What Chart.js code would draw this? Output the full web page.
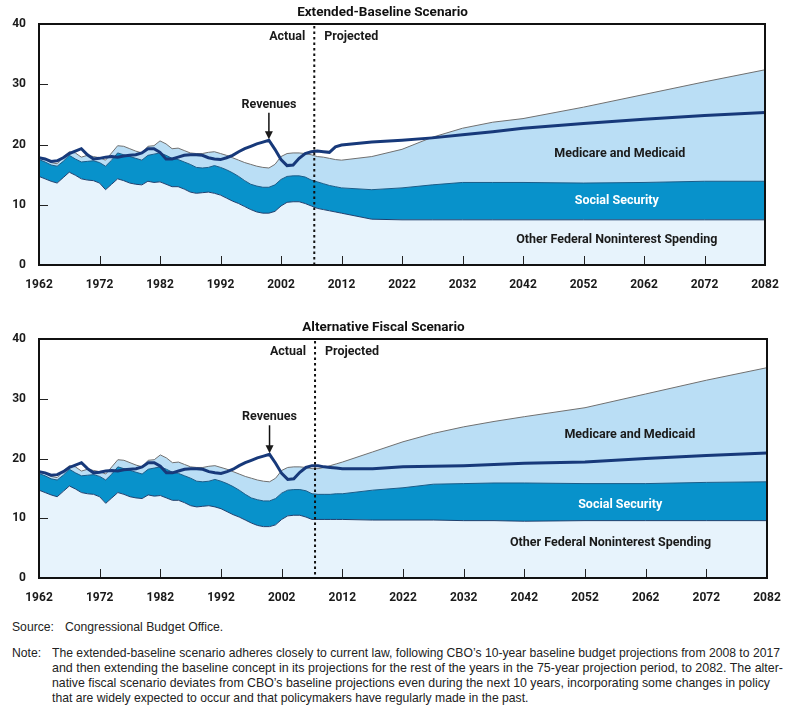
<!DOCTYPE html>
<html>
<head>
<meta charset="utf-8">
<script src="https://cdn.jsdelivr.net/npm/chart.js@4.4.1/dist/chart.umd.min.js"></script>
<style>
  body { margin: 0; background: #fff; width: 800px; height: 712px; position: relative; overflow: hidden; }
  canvas { position: absolute; left: 0; }
  #topChart { top: 0; }
  #bottomChart { top: 315px; }
  .txt { position: absolute; font-family: "Liberation Sans", Arial, sans-serif; font-size: 13.5px; line-height: 15px; color: #222; white-space: nowrap; transform-origin: 0 50%; }
</style>
</head>
<body>
<canvas id="topChart" width="800" height="300"></canvas>
<canvas id="bottomChart" width="800" height="298"></canvas>

<div class="txt" style="left:12px; top:619px;">Source:</div>
<div class="txt" style="left:65px; top:619px;">Congressional Budget Office.</div>
<div class="txt" style="left:12px; top:645px;">Note:</div>
<div class="txt fit" data-w="728" style="left:52px; top:645px;">The extended-baseline scenario adheres closely to current law, following CBO’s 10-year baseline budget projections from 2008 to 2017</div>
<div class="txt fit" data-w="731" style="left:52px; top:660px;">and then extending the baseline concept in its projections for the rest of the years in the 75-year projection period, to 2082. The alter-</div>
<div class="txt fit" data-w="718" style="left:52px; top:675px;">native fiscal scenario deviates from CBO’s baseline projections even during the next 10 years, incorporating some changes in policy</div>
<div class="txt" style="left:52px; top:690px;">that are widely expected to occur and that policymakers have regularly made in the past.</div>

<script>
// percent of GDP, actual years
let histYears = [1962, 1963, 1964, 1965, 1966, 1967, 1968, 1969, 1970, 1971,
                 1972, 1973, 1974, 1975, 1976, 1977, 1978, 1979, 1980, 1981,
                 1982, 1983, 1984, 1985, 1986, 1987, 1988, 1989, 1990, 1991,
                 1992, 1993, 1994, 1995, 1996, 1997, 1998, 1999, 2000, 2001,
                 2002, 2003, 2004, 2005, 2006, 2007];
// top of "other federal noninterest spending"
let histOther = [14.7, 14.3, 13.9, 13.6, 14.5, 15.4, 14.9, 14.3, 14.1, 14.0,
                 13.6, 12.5, 13.4, 14.3, 14.0, 13.6, 13.4, 13.3, 13.9, 13.7,
                 13.8, 13.4, 13.0, 13.0, 12.6, 12.1, 11.9, 12.0, 12.1, 11.9,
                 11.6, 11.1, 10.6, 10.2, 9.7, 9.2, 8.8, 8.6, 8.6, 8.9,
                 9.8, 10.4, 10.5, 10.5, 10.2, 9.8];
// top of social security band (stacked)
let histSocialTop = [17.5, 17.1, 16.6, 16.4, 17.2, 18.2, 17.6, 17.1, 17.2, 17.3,
                     17.0, 16.4, 17.4, 18.6, 18.3, 18.0, 17.7, 17.4, 18.2, 18.4,
                     18.6, 18.2, 17.7, 17.5, 17.1, 16.7, 16.2, 16.1, 16.2, 16.5,
                     16.2, 15.8, 15.3, 14.7, 14.0, 13.4, 13.1, 12.9, 12.9, 13.3,
                     14.2, 14.7, 14.8, 14.8, 14.6, 14.1];
// total noninterest spending (top of medicare and medicaid)
let histTotal = [17.8, 17.5, 17.0, 16.8, 17.9, 18.8, 18.6, 17.9, 18.2, 18.0,
                 17.8, 17.4, 18.6, 19.8, 19.7, 19.3, 18.9, 18.6, 19.7, 19.8,
                 20.6, 20.1, 19.3, 19.4, 19.0, 18.6, 18.5, 18.5, 18.7, 18.8,
                 18.5, 18.2, 17.8, 17.4, 17.0, 16.7, 16.4, 16.2, 16.1, 16.7,
                 18.0, 18.5, 18.6, 18.6, 18.5, 18.3];
let histRevenues = [17.8, 17.6, 17.2, 17.3, 17.8, 18.5, 18.9, 19.3, 18.3, 17.6,
                    17.7, 17.9, 18.0, 17.9, 18.1, 18.2, 18.3, 18.6, 19.3, 19.3,
                    18.7, 17.6, 17.6, 17.9, 18.2, 18.3, 18.3, 18.2, 17.8, 17.6,
                    17.5, 17.8, 18.2, 18.8, 19.3, 19.7, 20.1, 20.4, 20.7, 19.2,
                    17.5, 16.5, 16.6, 17.7, 18.5, 18.8];

let projYears = [2008, 2009, 2010, 2011, 2012, 2017, 2022, 2027, 2032, 2037, 2042, 2052, 2062, 2072, 2082];

// extended-baseline scenario
let baseOther     = [9.4, 9.2, 9.0, 8.8, 8.6, 7.6, 7.5, 7.5, 7.5, 7.5, 7.5, 7.5, 7.5, 7.5, 7.5];
let baseSocialTop = [13.8, 13.5, 13.2, 13.0, 12.8, 12.5, 12.8, 13.3, 13.7, 13.7, 13.7, 13.6, 13.7, 13.9, 13.9];
let baseTotal     = [18.0, 17.9, 17.7, 17.5, 17.4, 18.0, 19.2, 21.2, 22.7, 23.7, 24.3, 26.2, 28.3, 30.4, 32.4];
let baseRevenues  = [18.9, 18.8, 18.7, 19.6, 19.9, 20.4, 20.7, 21.1, 21.6, 22.1, 22.7, 23.5, 24.2, 24.8, 25.3];

// alternative fiscal scenario
let altOther     = [9.8, 9.8, 9.8, 9.8, 9.8, 9.7, 9.7, 9.7, 9.6, 9.6, 9.5, 9.6, 9.6, 9.6, 9.6];
let altSocialTop = [14.0, 14.0, 14.0, 14.1, 14.1, 14.7, 15.1, 15.7, 15.8, 15.9, 15.9, 15.8, 15.8, 16.0, 16.1];
let altTotal     = [18.3, 18.5, 18.8, 19.1, 19.4, 21.1, 22.8, 24.2, 25.3, 26.2, 27.0, 28.5, 30.8, 33.1, 35.2];
let altRevenues  = [18.8, 18.6, 18.5, 18.4, 18.3, 18.3, 18.6, 18.7, 18.8, 19.0, 19.2, 19.4, 20.0, 20.5, 20.9];

let splitYear = 2007.5;   // actual | projected
let peakYear = 2000;      // where the "Revenues" arrow points

function points(hist, proj) {
    let years = histYears.concat(projYears);
    let vals = hist.concat(proj);
    return years.map((x, i) => ({ x: x, y: vals[i] }));
}

// squeeze the note lines to the reference's narrow type
let fitLines = document.querySelectorAll('.fit');
let noteScale = 1;
fitLines.forEach((el, i) => {
    let s = +el.dataset.w / el.getBoundingClientRect().width;
    if (i === 0) noteScale = s;
    el.style.transform = 'scaleX(' + s + ')';
});
document.querySelectorAll('.txt:not(.fit)').forEach(el => {
    el.style.transform = 'scaleX(' + noteScale + ')';
});

let boldFont = 'bold 12.5px Roboto, "DejaVu Sans", sans-serif';

let overlay = {
    id: 'overlay',
    afterDatasetsDraw(chart, args, opts) {
        let ctx = chart.ctx;
        let a = chart.chartArea;
        let x = chart.scales.x;
        let y = chart.scales.y;
        ctx.save();

        // small ticks inside the plot
        ctx.strokeStyle = '#222';
        ctx.lineWidth = 1;
        ctx.beginPath();
        x.ticks.forEach(t => {
            if (t.value <= x.min || t.value >= x.max) return;
            let px = Math.round(x.getPixelForValue(t.value)) + 0.5;
            ctx.moveTo(px, a.bottom);
            ctx.lineTo(px, a.bottom - 9);
        });
        y.ticks.forEach(t => {
            if (t.value <= y.min || t.value >= y.max) return;
            let py = Math.round(y.getPixelForValue(t.value)) + 0.5;
            ctx.moveTo(a.left, py);
            ctx.lineTo(a.left + 9, py);
        });
        ctx.stroke();

        // frame
        ctx.lineWidth = 2;
        ctx.strokeStyle = '#111';
        ctx.strokeRect(a.left, a.top, a.right - a.left, a.bottom - a.top);

        // actual / projected divider
        let sx = x.getPixelForValue(splitYear);
        ctx.setLineDash([2.5, 3]);
        ctx.beginPath();
        ctx.moveTo(sx, a.top + 2);
        ctx.lineTo(sx, a.bottom);
        ctx.stroke();
        ctx.setLineDash([]);

        ctx.font = boldFont;
        ctx.fillStyle = '#1a1a1a';
        ctx.textBaseline = 'middle';
        let ty = y.getPixelForValue(37.8);
        ctx.textAlign = 'right';
        ctx.fillText('Actual', sx - 9, ty);
        ctx.textAlign = 'left';
        ctx.fillText('Projected', sx + 10, ty);

        // revenues label + arrow
        let rx = x.getPixelForValue(peakYear);
        let ry = y.getPixelForValue(opts.revLabel);
        ctx.textAlign = 'center';
        ctx.fillText('Revenues', rx, ry);
        let tip = y.getPixelForValue(histRevenues[histYears.indexOf(peakYear)]) - 1;
        ctx.lineWidth = 1.5;
        ctx.beginPath();
        ctx.moveTo(rx, ry + 8);
        ctx.lineTo(rx, tip - 6);
        ctx.stroke();
        ctx.beginPath();
        ctx.moveTo(rx - 4, tip - 8);
        ctx.lineTo(rx + 4, tip - 8);
        ctx.lineTo(rx, tip);
        ctx.closePath();
        ctx.fill();

        // area labels
        opts.areas.forEach(l => {
            ctx.fillStyle = l.color;
            ctx.fillText(l.text, x.getPixelForValue(l.x), y.getPixelForValue(l.y));
        });
        ctx.restore();
    }
};

function makeChart(id, title, other, socialTop, total, revenues, padRight, marks) {
    return new Chart(document.getElementById(id).getContext('2d'), {
        type: 'line',
        data: {
            datasets: [{
                label: 'Revenues',
                data: revenues,
                borderColor: '#17397a',
                borderWidth: 3,
                fill: false
            }, {
                label: 'Other Federal Noninterest Spending',
                data: other,
                borderColor: '#1d3f6e',
                borderWidth: 1,
                backgroundColor: '#e7f3fc',
                fill: 'origin'
            }, {
                label: 'Social Security',
                data: socialTop,
                borderColor: '#1b5c88',
                borderWidth: 1,
                backgroundColor: '#0892cb',
                fill: 1
            }, {
                label: 'Medicare and Medicaid',
                data: total,
                borderColor: '#707070',
                borderWidth: 1,
                backgroundColor: '#badef5',
                fill: 2
            }]
        },
        options: {
            responsive: false,
            animation: false,
            events: [],
            elements: { point: { radius: 0 }, line: { tension: 0 } },
            layout: { autoPadding: false, padding: { left: 0, right: padRight, top: 0, bottom: 0 } },
            scales: {
                x: {
                    type: 'linear',
                    min: 1962,
                    max: 2082,
                    afterFit: s => { s.height = 35; },
                    grid: { display: false, drawTicks: false },
                    border: { display: false },
                    ticks: {
                        stepSize: 10,
                        padding: 13,
                        maxRotation: 0,
                        color: '#1a1a1a',
                        font: { family: 'Roboto', size: 12, weight: 'bold' },
                        callback: v => String(v)
                    }
                },
                y: {
                    min: 0,
                    max: 40,
                    afterFit: s => { s.width = 39; },
                    grid: { display: false, drawTicks: false },
                    border: { display: false },
                    ticks: {
                        stepSize: 10,
                        padding: 13,
                        color: '#1a1a1a',
                        font: { family: 'Roboto', size: 12, weight: 'bold' }
                    }
                }
            },
            plugins: {
                legend: { display: false },
                tooltip: { enabled: false },
                title: {
                    display: true,
                    text: title,
                    color: '#111',
                    font: { family: 'Roboto', size: 13.5, weight: 'bold' },
                    padding: { top: 5, bottom: 2.8 }
                },
                overlay: marks
            }
        },
        plugins: [overlay]
    });
}

makeChart('topChart', 'Extended-Baseline Scenario',
    points(histOther, baseOther), points(histSocialTop, baseSocialTop),
    points(histTotal, baseTotal), points(histRevenues, baseRevenues), 35, {
        revLabel: 26.6,
        areas: [
            { text: 'Medicare and Medicaid', x: 2058, y: 18.4, color: '#1a1a1a' },
            { text: 'Social Security', x: 2057.5, y: 10.6, color: '#ffffff' },
            { text: 'Other Federal Noninterest Spending', x: 2057.5, y: 4.15, color: '#1a1a1a' }
        ]
    });

makeChart('bottomChart', 'Alternative Fiscal Scenario',
    points(histOther, altOther), points(histSocialTop, altSocialTop),
    points(histTotal, altTotal), points(histRevenues, altRevenues), 33, {
        revLabel: 26.9,
        areas: [
            { text: 'Medicare and Medicaid', x: 2059.4, y: 23.9, color: '#1a1a1a' },
            { text: 'Social Security', x: 2057.8, y: 12.3, color: '#ffffff' },
            { text: 'Other Federal Noninterest Spending', x: 2056.2, y: 5.9, color: '#1a1a1a' }
        ]
    });
</script>
</body>
</html>
